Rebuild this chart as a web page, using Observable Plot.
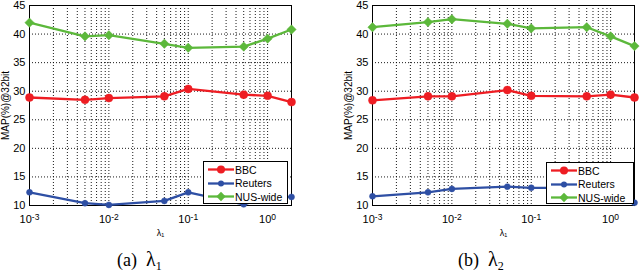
<!DOCTYPE html>
<html><head><meta charset="utf-8">
<script src="https://cdn.jsdelivr.net/npm/d3@7"></script>
<script src="https://cdn.jsdelivr.net/npm/@observablehq/plot@0.6"></script>
<style>
body{margin:0;background:#fff;}
#wrap{position:relative;width:640px;height:273px;overflow:hidden;font-family:"Liberation Sans",Arial,sans-serif;}
.panel{position:absolute;top:0;width:320px;height:246px;}
.legend{position:absolute;box-sizing:border-box;border:1px solid #000;background:#fff;font-size:10.5px;color:#000;}
.legend .row{position:absolute;left:3px;height:13px;display:flex;align-items:center;white-space:nowrap;}
.legend svg{display:block;}
.caption{position:absolute;top:248px;font-family:"Liberation Serif","Times New Roman",serif;font-size:18px;white-space:nowrap;color:#000;}
.caption .lam{font-size:20px;}
.caption sub{font-size:12px;vertical-align:-4px;}
</style></head>
<body><div id="wrap"></div>
<script>
// ---- data ----
const lambdas = [0.001, 0.005, 0.01, 0.05, 0.1, 0.5, 1, 2];
const seriesNames = ["BBC", "Reuters", "NUS-wide"];
// panel (a): lambda_1
const bbcA     = [28.9, 28.5, 28.8, 29.1, 30.4, 29.4, 29.2, 28.1];
const reutersA = [12.3, 10.4, 10.1, 10.8, 12.3, 10.2, 11.4, 11.5];
const nusA     = [42.0, 39.6, 39.8, 38.3, 37.6, 37.8, 39.2, 40.8];
// panel (b): lambda_2
const bbcB     = [28.4, 29.1, 29.1, 30.2, 29.2, 29.1, 29.4, 28.9];
const reutersB = [11.6, 12.3, 12.9, 13.3, 13.1, 13.1, 13.0, 10.5];
const nusB     = [41.2, 42.1, 42.6, 41.8, 41.0, 41.2, 39.6, 37.9];
// ticks
const yTicks = [10, 15, 20, 25, 30, 35, 40, 45];
const xTicks = [0.001, 0.01, 0.1, 1];
const xTickLabels = ["10^-3", "10^-2", "10^-1", "10^0"];
const decades = [0.001, 0.01, 0.1];
const multipliers = [1, 2, 3, 4, 5, 6, 7, 8, 9];
const extraGrid = [1, 2];
const yTitle = "MAP(%)@32bit";
const xTitle = "λ₁";
const captions = [["(a)", "1"], ["(b)", "2"]];

// ---- styles ----
const colors = ["#ee1d23", "#2e4fa4", "#5cb83b"];
const symbols = ["circle", "circle", "diamond2"];
const radii = [4, 3, 4.2];

const minorGrid = [];
for (const d of decades) for (const m of multipliers) minorGrid.push(d * m);
for (const v of extraGrid) minorGrid.push(v);

function makeData(arrs) {
  const rows = [];
  arrs.forEach((arr, s) => arr.forEach((v, i) => rows.push({lambda: lambdas[i], value: v, series: seriesNames[s]})));
  return rows;
}

function panel(arrs, opts) {
  const data = makeData(arrs);
  const seriesMarks = [];
  seriesNames.forEach((name, s) => {
    const sub = data.filter(d => d.series === name);
    seriesMarks.push(Plot.line(sub, {x: "lambda", y: "value", stroke: colors[s], strokeWidth: 2.3}));
    seriesMarks.push(Plot.dot(sub, {x: "lambda", y: "value", fill: colors[s], stroke: colors[s], strokeWidth: 0.5, symbol: symbols[s], r: radii[s]}));
  });
  const svg = Plot.plot({
    width: 320, height: 246,
    marginLeft: opts.ml, marginRight: opts.mr, marginTop: 5, marginBottom: 41,
    x: {type: "log", domain: [0.001, 2]},
    y: {domain: [10, 45]},
    style: {fontFamily: '"Liberation Sans", Arial, sans-serif', fontSize: "11px", color: "#000", background: "transparent", overflow: "visible"},
    marks: [
      Plot.ruleX(minorGrid, {stroke: "#000", strokeDasharray: "1,2", strokeOpacity: 0.9}),
      Plot.ruleY(yTicks, {stroke: "#000", strokeDasharray: "1,2", strokeOpacity: 0.9}),
      Plot.frame({stroke: "#000", strokeWidth: 1}),
      Plot.axisY({ticks: yTicks, tickSize: 0, tickPadding: 4, label: null, fontSize: 11}),
      Plot.axisX({ticks: xTicks, tickSize: 0, tickPadding: 10, label: null, fontSize: 11,
        tickFormat: d => xTickLabels[xTicks.indexOf(d)]}),
      Plot.text([yTitle], {frameAnchor: "left", rotate: -90, dx: -24, fontSize: 10, textAnchor: "middle", lineAnchor: "middle"}),
      Plot.text([xTitle], {frameAnchor: "bottom", dy: 28, fontSize: 9, textAnchor: "middle", lineAnchor: "middle"}),
      ...seriesMarks
    ]
  });
  svg.querySelectorAll('g[aria-label="x-axis tick label"] text').forEach(t => {
    const parts = t.textContent.split("^");
    t.textContent = parts[0];
    const ts = document.createElementNS("http://www.w3.org/2000/svg", "tspan");
    ts.setAttribute("dy", "-0.45em");
    ts.setAttribute("font-size", "8.5");
    ts.textContent = parts[1];
    t.appendChild(ts);
  });
  const div = document.createElement("div");
  div.className = "panel";
  div.style.left = opts.left + "px";
  div.appendChild(svg);
  document.getElementById("wrap").appendChild(div);

  // legend
  const lg = document.createElement("div");
  lg.className = "legend";
  lg.style.left = opts.lg[0] + "px"; lg.style.top = opts.lg[1] + "px";
  lg.style.width = opts.lg[2] + "px"; lg.style.height = opts.lg[3] + "px";
  seriesNames.forEach((name, s) => {
    const row = document.createElement("div");
    row.className = "row";
    row.style.top = (1 + s * 13.5) + "px";
    const sw = d3.create("svg").attr("width", 27).attr("height", 13);
    sw.append("line").attr("x1", 1).attr("x2", 27).attr("y1", 6.5).attr("y2", 6.5)
      .attr("stroke", colors[s]).attr("stroke-width", 2.3);
    const sym = d3.symbol().type(symbols[s] === "diamond2" ? d3.symbolDiamond2 : d3.symbolCircle)
      .size(Math.PI * radii[s] * radii[s]);
    sw.append("path").attr("d", sym()).attr("transform", "translate(14,6.5)").attr("fill", colors[s]);
    row.appendChild(sw.node());
    const tx = document.createElement("span");
    tx.textContent = name;
    tx.style.marginLeft = "1px";
    row.appendChild(tx);
    lg.appendChild(row);
  });
  document.getElementById("wrap").appendChild(lg);

  const cap = document.createElement("div");
  cap.className = "caption";
  cap.style.left = opts.capLeft + "px";
  cap.innerHTML = opts.cap[0] + '&nbsp;&nbsp;<span class="lam">λ</span><sub>' + opts.cap[1] + '</sub>';
  document.getElementById("wrap").appendChild(cap);
}

panel([bbcA, reutersA, nusA], {left: 0, ml: 29, mr: 29, lg: [203, 161, 85, 43], cap: captions[0], capLeft: 117});
panel([bbcB, reutersB, nusB], {left: 320, ml: 52, mr: 6, lg: [546, 162, 88, 42], cap: captions[1], capLeft: 458});
</script>
</body></html>
